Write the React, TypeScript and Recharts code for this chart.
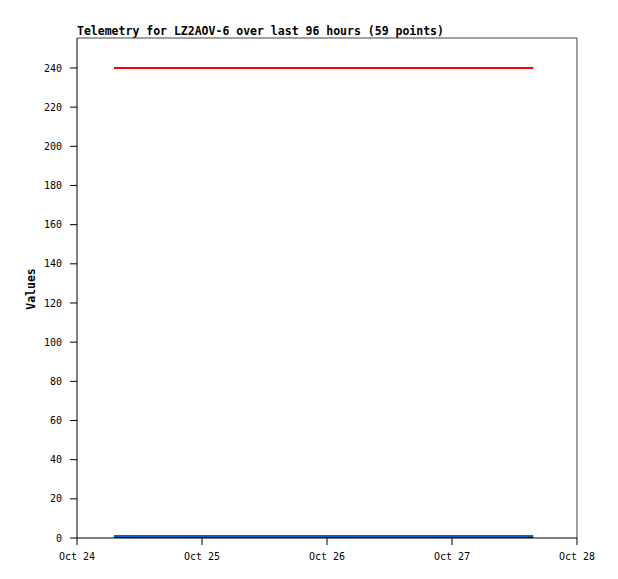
import React from 'react';
import { LineChart, Line, XAxis, YAxis, ReferenceLine } from 'recharts';

const hours = [7.1, 8.5, 9.9, 11.3, 12.6, 14.0, 15.4, 16.8, 18.2, 19.6, 21.0, 22.4, 23.8, 25.1, 26.5, 27.9, 29.3, 30.7, 32.1, 33.5, 34.9, 36.2, 37.6, 39.0, 40.4, 41.8, 43.2, 44.6, 46.0, 47.4, 48.7, 50.1, 51.5, 52.9, 54.3, 55.7, 57.1, 58.5, 59.9, 61.2, 62.6, 64.0, 65.4, 66.8, 68.2, 69.6, 71.0, 72.3, 73.7, 75.1, 76.5, 77.9, 79.3, 80.7, 82.1, 83.5, 84.8, 86.2, 87.6];

const redValues = [240, 240, 240, 240, 240, 240, 240, 240, 240, 240, 240, 240, 240, 240, 240, 240, 240, 240, 240, 240, 240, 240, 240, 240, 240, 240, 240, 240, 240, 240, 240, 240, 240, 240, 240, 240, 240, 240, 240, 240, 240, 240, 240, 240, 240, 240, 240, 240, 240, 240, 240, 240, 240, 240, 240, 240, 240, 240, 240];
const blueValues = [1, 1, 1, 1, 1, 1, 1, 1, 1, 1, 1, 1, 1, 1, 1, 1, 1, 1, 1, 1, 1, 1, 1, 1, 1, 1, 1, 1, 1, 1, 1, 1, 1, 1, 1, 1, 1, 1, 1, 1, 1, 1, 1, 1, 1, 1, 1, 1, 1, 1, 1, 1, 1, 1, 1, 1, 1, 1, 1];
const blackValues = [0, 0, 0, 0, 0, 0, 0, 0, 0, 0, 0, 0, 0, 0, 0, 0, 0, 0, 0, 0, 0, 0, 0, 0, 0, 0, 0, 0, 0, 0, 0, 0, 0, 0, 0, 0, 0, 0, 0, 0, 0, 0, 0, 0, 0, 0, 0, 0, 0, 0, 0, 0, 0, 0, 0, 0, 0, 0, 0];

const xTicks = [0, 24, 48, 72, 96];
const xTickLabels = ['Oct 24', 'Oct 25', 'Oct 26', 'Oct 27', 'Oct 28'];
const yTicks = [0, 20, 40, 60, 80, 100, 120, 140, 160, 180, 200, 220, 240];
const xMax = 96;
const yMax = 255.3;

const title = 'Telemetry for LZ2AOV-6 over last 96 hours (59 points)';
const yLabel = 'Values';

const data = hours.map((h, i) => ({ t: h, red: redValues[i], blue: blueValues[i], black: blackValues[i] }));

const FONT = '"DejaVu Sans Mono", "Liberation Mono", monospace';

export default function App() {
  return (
    <div style={{ position: 'absolute', left: 0, top: 0, width: 618, height: 579, background: '#fff' }}>
      <LineChart width={618} height={579} data={data} margin={{ top: 38, right: 41, bottom: 11, left: 27 }}>
        <XAxis
          dataKey="t"
          type="number"
          domain={[0, xMax]}
          ticks={xTicks}
          tickFormatter={(v) => xTickLabels[xTicks.indexOf(v)]}
          height={30}
          stroke="#000"
          tickSize={7}
          tickMargin={8}
          tick={{ fill: '#000', fontSize: 10, fontFamily: FONT }}
          allowDataOverflow
        />
        <YAxis
          type="number"
          domain={[0, yMax]}
          ticks={yTicks}
          width={50}
          stroke="#000"
          tickSize={7}
          tickMargin={8}
          tick={{ fill: '#000', fontSize: 10, fontFamily: FONT }}
          allowDataOverflow
        />
        <ReferenceLine y={yMax} stroke="#444" strokeWidth={1} />
        <ReferenceLine x={xMax} stroke="#444" strokeWidth={1} />
        <Line dataKey="red" stroke="#ff0000" strokeWidth={2} dot={false} isAnimationActive={false} />
        <Line dataKey="blue" stroke="#0066cc" strokeWidth={2} dot={false} isAnimationActive={false} />
        <Line dataKey="black" stroke="#000000" strokeWidth={2} dot={false} isAnimationActive={false} />
        <text x={77} y={35} fontFamily={FONT} fontSize={11.5} fontWeight="bold" fill="#000">{title}</text>
        <text x={35} y={289} transform="rotate(-90 35 289)" textAnchor="middle" fontFamily={FONT} fontSize={11.5} fontWeight="bold" fill="#000">{yLabel}</text>
      </LineChart>
    </div>
  );
}
